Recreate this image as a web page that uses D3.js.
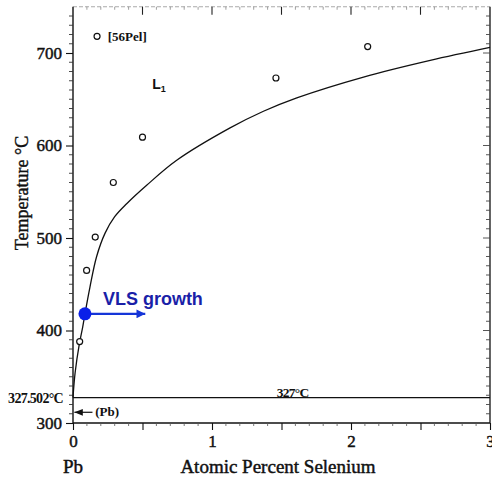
<!DOCTYPE html>
<html>
<head>
<meta charset="utf-8">
<script src="https://cdn.jsdelivr.net/npm/d3@7/dist/d3.min.js"></script>
<style>
  html, body { margin: 0; padding: 0; background: #fff; }
  svg { display: block; }
  text { font-family: "Liberation Serif", "DejaVu Serif", serif; fill: #111; }
</style>
</head>
<body>
<svg id="chart" width="492" height="481"></svg>
<script>
// ---- data (atomic % Se, temperature °C) ----
const liquidusX = [0, 0.015, 0.045, 0.07, 0.086, 0.122, 0.17, 0.23, 0.30, 0.386, 0.53, 0.746, 1.13, 1.37, 1.61, 2.09, 2.57, 3.0];
const liquidusT = [327.5, 354, 385, 404, 418, 447, 480, 505, 523, 537, 557, 584, 619, 637, 651.5, 674, 692, 706];
const pelX = [0.048, 0.098, 0.16, 0.29, 0.50, 1.46, 2.12];
const pelT = [388, 465, 501, 560, 609, 673, 707];
const vlsPoint = [0.086, 418];
const vlsArrowEndX = 0.52;
const pbMeltT = 327.502;
const xTickLabels = [0, 1, 2, 3];
const yTickLabels = [300, 400, 500, 600, 700];
const xDomain = [0, 3];
const yDomain = [300, 750];

const svg = d3.select("#chart");
const x = d3.scaleLinear().domain(xDomain).range([73, 490]);
const y = d3.scaleLinear().domain(yDomain).range([423, 6.75]);

// ---- frame ----
svg.append("line").attr("x1", x(0)).attr("x2", x(3)).attr("y1", y(750)).attr("y2", y(750))
  .attr("stroke", "#aaa").attr("stroke-width", 1).attr("stroke-dasharray", "4,2");
svg.append("line").attr("x1", x(3)).attr("x2", x(3)).attr("y1", y(750)).attr("y2", y(300))
  .attr("stroke", "#111").attr("stroke-width", 1.3);

// left axis
const leftAxis = d3.axisLeft(y).tickValues(yTickLabels).tickSize(7).tickPadding(4).tickFormat(d3.format("d"));
const gL = svg.append("g").attr("transform", `translate(${x(0)},0)`).call(leftAxis);
gL.select(".domain").attr("stroke", "#111").attr("stroke-width", 1.4).attr("d", `M0,${y(750)}V${y(300)}`);
gL.selectAll(".tick line").attr("stroke", "#111").attr("stroke-width", 1.1);
gL.selectAll(".tick text").attr("font-size", 17).attr("font-family", "Liberation Serif")
  .attr("fill", "#111").attr("stroke", "#111").attr("stroke-width", 0.45).attr("x", -11);
const minorY = d3.range(310, 750, 10).filter(v => v % 100 !== 0);
svg.append("g").selectAll("line").data(minorY).join("line")
  .attr("x1", x(0) - 4).attr("x2", x(0)).attr("y1", d => y(d)).attr("y2", d => y(d))
  .attr("stroke", "#333").attr("stroke-width", 0.9);

// right axis ticks (inward)
const rightTicks = d3.range(310, 750, 10);
svg.append("g").selectAll("line").data(rightTicks).join("line")
  .attr("x1", x(3)).attr("x2", d => x(3) - (d % 100 === 0 ? 7 : 4))
  .attr("y1", d => y(d)).attr("y2", d => y(d))
  .attr("stroke", "#444").attr("stroke-width", 0.9);

// bottom axis
const bottomAxis = d3.axisBottom(x).tickValues(d3.range(0, 3.01, 0.5)).tickSize(7).tickPadding(5)
  .tickFormat(d => xTickLabels.includes(d) ? d3.format("d")(d) : "");
const gB = svg.append("g").attr("transform", `translate(0,${y(300)})`).call(bottomAxis);
gB.select(".domain").attr("stroke", "#111").attr("stroke-width", 1.3).attr("d", `M${x(0)},0H${x(3)}`);
gB.selectAll(".tick line").attr("stroke", "#111").attr("stroke-width", 1.1);
gB.selectAll(".tick text").attr("font-size", 17).attr("font-family", "Liberation Serif")
  .attr("fill", "#111").attr("stroke", "#111").attr("stroke-width", 0.45);
const minorX = d3.range(0.1, 3, 0.1).filter(v => Math.abs(v * 2 - Math.round(v * 2)) > 1e-6);
svg.append("g").selectAll("line").data(minorX).join("line")
  .attr("x1", d => x(d)).attr("x2", d => x(d)).attr("y1", y(300)).attr("y2", y(300) + 3)
  .attr("stroke", "#555").attr("stroke-width", 0.8);

// top axis ticks (inward)
svg.append("g").selectAll("line").data(d3.range(0.5, 3, 0.5)).join("line")
  .attr("x1", d => x(d)).attr("x2", d => x(d)).attr("y1", y(750)).attr("y2", y(750) + 8)
  .attr("stroke", "#222").attr("stroke-width", 1.1);
svg.append("g").selectAll("line").data(minorX).join("line")
  .attr("x1", d => x(d)).attr("x2", d => x(d)).attr("y1", y(750)).attr("y2", y(750) + 3)
  .attr("stroke", "#888").attr("stroke-width", 0.8);

// ---- 327.502 horizontal line ----
svg.append("line").attr("x1", x(0)).attr("x2", x(3)).attr("y1", y(pbMeltT)).attr("y2", y(pbMeltT))
  .attr("stroke", "#111").attr("stroke-width", 1.2);

// ---- liquidus curve ----
const liq = liquidusX.map((v, i) => [v, liquidusT[i]]);
svg.append("path").datum(liq)
  .attr("d", d3.line().x(d => x(d[0])).y(d => y(d[1])).curve(d3.curveCatmullRom.alpha(0.5)))
  .attr("fill", "none").attr("stroke", "#111").attr("stroke-width", 1.3);

// ---- [56Pel] data points ----
const pel = pelX.map((v, i) => [v, pelT[i]]);
svg.append("g").selectAll("circle").data(pel).join("circle")
  .attr("cx", d => x(d[0])).attr("cy", d => y(d[1])).attr("r", 3)
  .attr("fill", "#fff").attr("stroke", "#111").attr("stroke-width", 1.2);

// legend
svg.append("circle").attr("cx", x(0.173)).attr("cy", y(718)).attr("r", 3)
  .attr("fill", "#fff").attr("stroke", "#111").attr("stroke-width", 1.2);
svg.append("text").attr("x", x(0.25)).attr("y", y(718) + 5).attr("font-size", 13)
  .attr("font-weight", "bold").text("[56Pel]");

// L1 label
const lt = svg.append("text").attr("x", x(0.57)).attr("y", y(661)).attr("font-size", 14)
  .style("font-family", "Liberation Sans, Arial, sans-serif").attr("font-weight", "bold");
lt.append("tspan").text("L");
lt.append("tspan").attr("font-size", 9).attr("dy", 3).text("1");

// ---- temperature labels ----
svg.append("text").attr("x", 63).attr("y", y(pbMeltT) + 5).attr("text-anchor", "end")
  .attr("font-size", 14).attr("font-weight", "bold").attr("letter-spacing", -0.7).text("327.502°C");
svg.append("text").attr("x", x(1.58)).attr("y", y(pbMeltT) - 0.5).attr("text-anchor", "middle")
  .attr("font-size", 13.5).attr("font-weight", "bold").attr("letter-spacing", -0.7).text("327°C");

// (Pb) arrow
const pbY = (y(pbMeltT) + y(300)) / 2 + 2;
svg.append("defs").append("marker").attr("id", "ah").attr("viewBox", "0 0 10 10")
  .attr("refX", 10).attr("refY", 5).attr("markerWidth", 7).attr("markerHeight", 7).attr("orient", "auto")
  .append("path").attr("d", "M0,1L10,5L0,9Z").attr("fill", "#111");
svg.append("line").attr("x1", x(0.14)).attr("x2", x(0.01)).attr("y1", pbY).attr("y2", pbY)
  .attr("stroke", "#111").attr("stroke-width", 1.2).attr("marker-end", "url(#ah)");
svg.append("text").attr("x", x(0.16)).attr("y", pbY + 4).attr("font-size", 13).attr("font-weight", "bold").text("(Pb)");

// ---- VLS growth annotation ----
svg.select("defs").append("marker").attr("id", "bh").attr("viewBox", "0 0 10 10")
  .attr("refX", 10).attr("refY", 5).attr("markerWidth", 4).attr("markerHeight", 4).attr("markerUnits", "strokeWidth").attr("orient", "auto")
  .append("path").attr("d", "M0,0L10,5L0,10Z").attr("fill", "#1535d8");
svg.append("line").attr("x1", x(vlsPoint[0])).attr("x2", x(vlsArrowEndX)).attr("y1", y(vlsPoint[1])).attr("y2", y(vlsPoint[1]))
  .attr("stroke", "#1535d8").attr("stroke-width", 2.2).attr("marker-end", "url(#bh)");
svg.append("circle").attr("cx", x(vlsPoint[0])).attr("cy", y(vlsPoint[1])).attr("r", 6.5).attr("fill", "#0a1fe8");
svg.append("text").attr("x", x(0.215)).attr("y", y(vlsPoint[1]) - 9)
  .style("font-family", "Liberation Sans, Arial, sans-serif").style("fill", "#1a1fa8")
  .attr("font-size", 18).attr("font-weight", "bold").text("VLS growth");

// ---- axis titles ----
svg.append("text").attr("transform", `translate(28,193) rotate(-90)`).attr("text-anchor", "middle")
  .attr("font-size", 18).attr("stroke", "#111").attr("stroke-width", 0.4).text("Temperature °C");
svg.append("text").attr("x", 278).attr("y", 473).attr("text-anchor", "middle")
  .attr("font-size", 19).attr("stroke", "#111").attr("stroke-width", 0.45).text("Atomic Percent Selenium");
svg.append("text").attr("x", x(0)).attr("y", 473).attr("text-anchor", "middle")
  .attr("font-size", 19).attr("stroke", "#111").attr("stroke-width", 0.45).text("Pb");
</script>
</body>
</html>
